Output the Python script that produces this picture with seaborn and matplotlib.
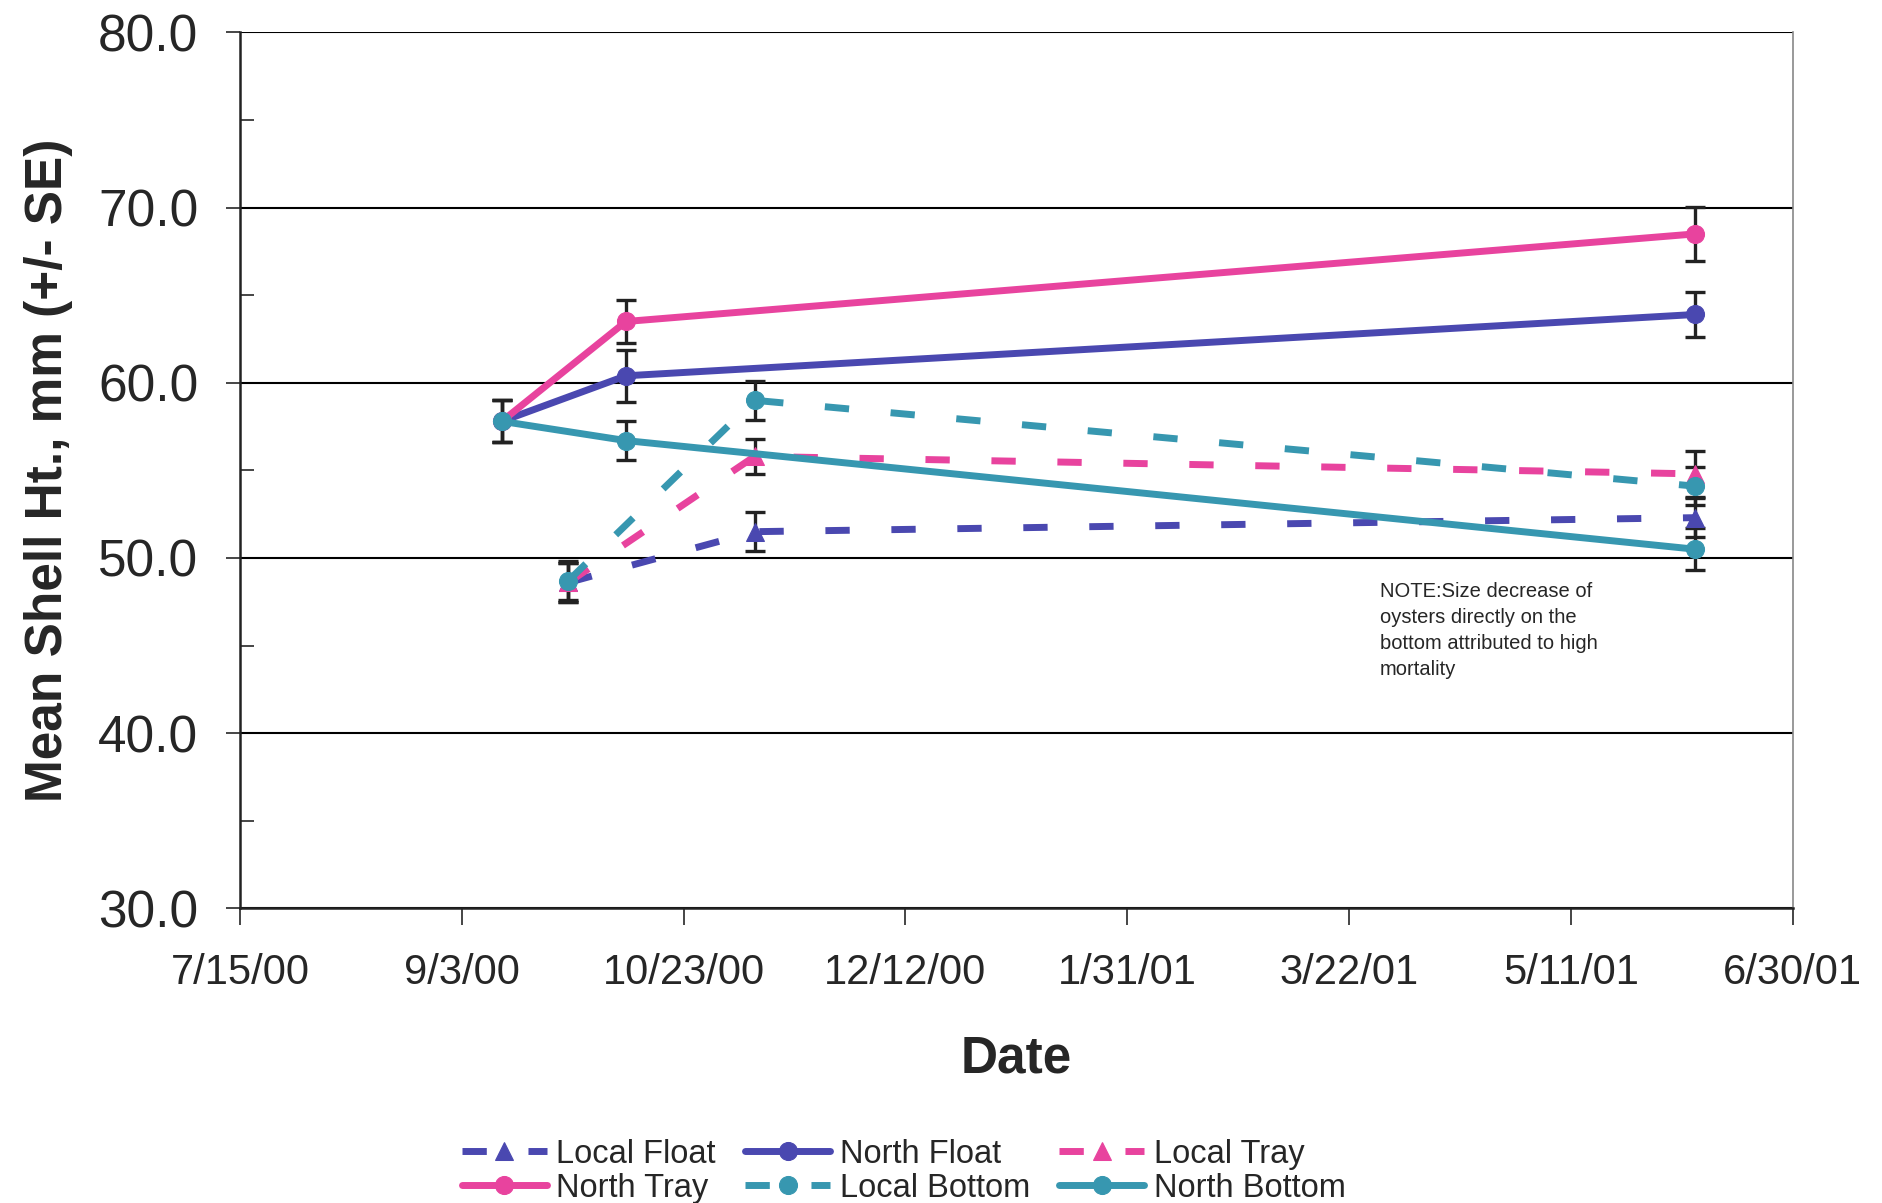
import numpy as np
import pandas as pd
import matplotlib
matplotlib.use("Agg")
from matplotlib import pyplot as plt
import matplotlib.dates as mdates
from matplotlib.ticker import MultipleLocator, FixedLocator
import seaborn as sns

# sampling dates
north_dates = ["2000-09-12", "2000-10-10", "2001-06-08"]
local_dates = ["2000-09-27", "2000-11-08", "2001-06-08"]

# mean shell height (mm) and SE
north_float = [57.8, 60.4, 63.9]
north_float_se = [1.2, 1.5, 1.3]
north_tray = [57.8, 63.5, 68.5]
north_tray_se = [1.2, 1.2, 1.55]
north_bottom = [57.8, 56.7, 50.5]
north_bottom_se = [1.2, 1.1, 1.2]
local_float = [48.6, 51.5, 52.3]
local_float_se = [1.1, 1.1, 1.1]
local_tray = [48.6, 55.8, 54.8]
local_tray_se = [1.1, 1.0, 1.3]
local_bottom = [48.7, 59.0, 54.1]
local_bottom_se = [1.1, 1.1, 1.1]

series = {
    "Local Float": (local_dates, local_float, local_float_se),
    "North Float": (north_dates, north_float, north_float_se),
    "Local Tray": (local_dates, local_tray, local_tray_se),
    "North Tray": (north_dates, north_tray, north_tray_se),
    "Local Bottom": (local_dates, local_bottom, local_bottom_se),
    "North Bottom": (north_dates, north_bottom, north_bottom_se),
}

rows = []
for name, (d, v, se) in series.items():
    for di, vi, si in zip(d, v, se):
        rows.append({"Date": pd.Timestamp(di), "Height": vi, "SE": si, "Group": name})
df = pd.DataFrame(rows)

blue = "#4a48b0"
pink = "#e8439e"
teal = "#3797b0"
palette = {"Local Float": blue, "North Float": blue, "Local Tray": pink,
           "North Tray": pink, "Local Bottom": teal, "North Bottom": teal}
dashes = {"Local Float": (3.5, 6), "North Float": "", "Local Tray": (3.5, 6),
          "North Tray": "", "Local Bottom": (3.5, 6), "North Bottom": ""}
markers = {"Local Float": "^", "North Float": "o", "Local Tray": "^",
           "North Tray": "o", "Local Bottom": "o", "North Bottom": "o"}

sns.set_style("white")
plt.rcParams["font.family"] = ["Liberation Sans", "DejaVu Sans"]

fig = plt.figure(figsize=(18.83, 12.03), dpi=100)
ax = fig.add_axes([0.1275, 0.245, 0.8245, 0.728])

# error bars first so lines sit on top
for name in series:
    sub = df[df.Group == name]
    ax.errorbar(sub.Date, sub.Height, yerr=sub.SE, fmt="none", ecolor="#222222",
                elinewidth=2.4, capsize=7, capthick=2.4, zorder=2)

sns.lineplot(data=df, x="Date", y="Height", hue="Group", style="Group",
             palette=palette, dashes=dashes, markers=markers, markersize=13,
             linewidth=5, markeredgecolor=None, ax=ax, legend="full", zorder=3)

ax.set_xlim(pd.Timestamp("2000-07-15"), pd.Timestamp("2001-06-30"))
ax.set_ylim(30, 80)
xticks = pd.date_range("2000-07-15", periods=8, freq="50D")
ax.xaxis.set_major_locator(FixedLocator(mdates.date2num(xticks)))
ax.set_xticklabels([f"{t.month}/{t.day}/{t.strftime('%y')}" for t in xticks])
ax.yaxis.set_major_locator(MultipleLocator(10))
ax.yaxis.set_minor_locator(MultipleLocator(5))
ax.yaxis.set_major_formatter(matplotlib.ticker.FormatStrFormatter("%.1f"))

ax.grid(axis="y", which="major", color="black", linewidth=1.5)
ax.tick_params(axis="y", which="major", direction="out", length=10, width=1.2,
               labelsize=37, pad=20, left=True)
ax.tick_params(axis="y", which="minor", direction="in", length=10, width=1.2, left=True)
ax.tick_params(axis="x", which="major", direction="out", length=12, width=1.2,
               labelsize=30, pad=20, bottom=True)
for s in ["left", "bottom"]:
    ax.spines[s].set_color("#222222")
    ax.spines[s].set_linewidth(1.8)
for s in ["top", "right"]:
    ax.spines[s].set_color("#888888")
    ax.spines[s].set_linewidth(1.2)
ax.spines["top"].set_visible(False)

ax.set_xlabel("Date", fontsize=37, fontweight="bold", labelpad=30)
ax.set_ylabel("Mean Shell Ht., mm (+/- SE)", fontsize=37, fontweight="bold", labelpad=18)

ax.text(pd.Timestamp("2001-03-29"), 48.6,
        "NOTE:Size decrease of\noysters directly on the\nbottom attributed to high\nmortality",
        fontsize=14.5, va="top", ha="left", linespacing=1.45)

handles, labels = ax.get_legend_handles_labels()
ax.get_legend().remove()
hmap = dict(zip(labels, handles))
order = ["Local Float", "North Tray", "North Float", "Local Bottom", "Local Tray", "North Bottom"]
fig.legend([hmap[k] for k in order], order, loc="upper center", ncol=3,
           bbox_to_anchor=(0.48, 0.078), frameon=False, fontsize=23.5,
           handlelength=2.6, handletextpad=0.3, columnspacing=0.9, labelspacing=0.1)

fig.savefig("out.png", dpi=100)
